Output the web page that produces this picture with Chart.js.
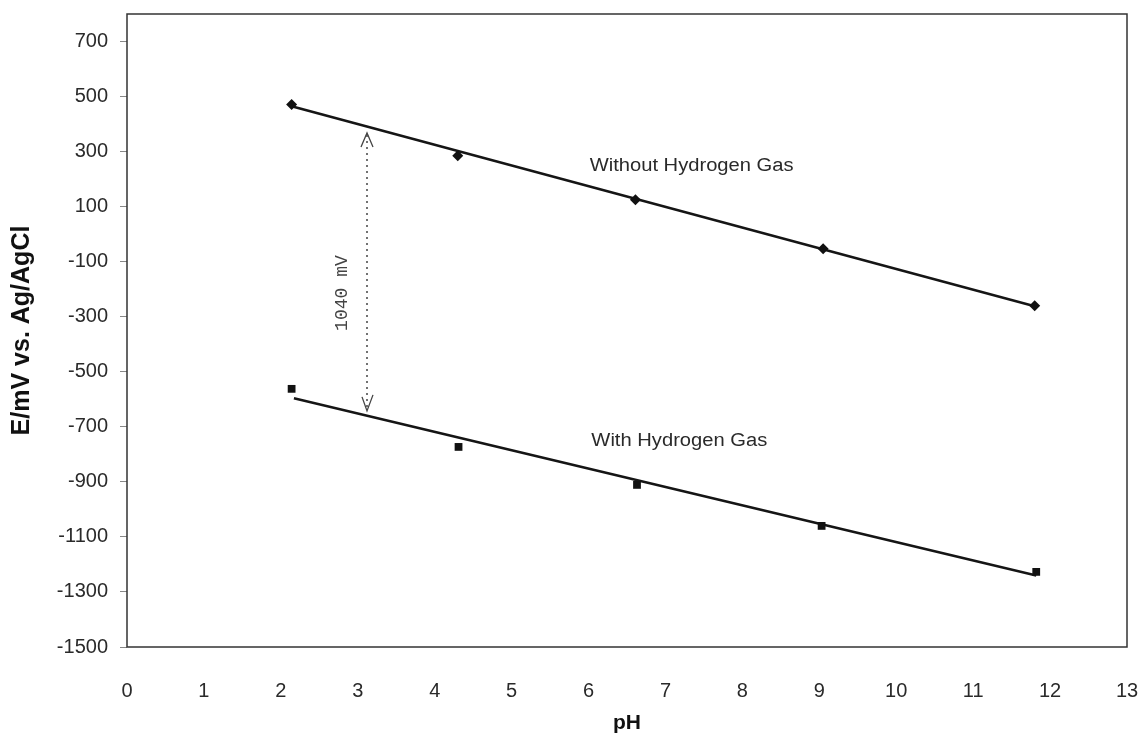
<!DOCTYPE html>
<html>
<head>
<meta charset="utf-8">
<script src="https://cdn.jsdelivr.net/npm/chart.js@4.4.1/dist/chart.umd.min.js"></script>
<style>
  html, body { margin: 0; padding: 0; background: #fff; }
  #wrap { width: 1143px; height: 733px; position: relative; }
</style>
</head>
<body>
<div id="wrap"><canvas id="chart"></canvas></div>
<script>
// ========== данные ==========
const phWithout = [2.14, 4.30, 6.61, 9.05, 11.80];
const eWithout = [471, 285, 125, -53, -260];
const phWith = [2.14, 4.31, 6.63, 9.03, 11.82];
const eWith = [-562, -773, -911, -1060, -1227];

// линии тренда (концы)
const trendWithoutX = [2.14, 11.80];
const trendWithoutY = [465, -262];
const trendWithX = [2.17, 11.82];
const trendWithY = [-596, -1240];

const xTicks = [0, 1, 2, 3, 4, 5, 6, 7, 8, 9, 10, 11, 12, 13];
const yTicks = [-1500, -1300, -1100, -900, -700, -500, -300, -100, 100, 300, 500, 700];

const seriesLabels = ["Without Hydrogen Gas", "With Hydrogen Gas"];
const seriesLabelX = [7.34, 7.18];
const seriesLabelY = [249, -753];

// стрелка 1040 mV
const gapLabel = "1040 mV";
const gapX = 3.12;
const gapTop = 368;
const gapBottom = -642;
const gapLabelX = 2.80;
const gapLabelY = -214;

const TEXT = "#2a2a2a";
const FONT = "'Liberation Sans', Arial, sans-serif";

function toPoints(xs, ys) {
  return xs.map((x, i) => ({ x: x, y: ys[i] }));
}

function fixAxis(axis) {
  axis.paddingLeft = 0;
  axis.paddingRight = 0;
  axis.paddingTop = 0;
  axis.paddingBottom = 0;
}

// рамка, подписи серий, стрелка
const decorPlugin = {
  id: "decor",
  afterDatasetsDraw(chart) {
    const { ctx, chartArea: a, scales } = chart;
    const xs = scales.x, ys = scales.y;
    ctx.save();

    ctx.strokeStyle = "#333";
    ctx.lineWidth = 1.5;
    ctx.strokeRect(a.left, a.top, a.right - a.left, a.bottom - a.top);

    ctx.fillStyle = TEXT;
    ctx.font = "18px " + FONT;
    ctx.textAlign = "center";
    ctx.textBaseline = "middle";
    seriesLabels.forEach((t, i) => {
      ctx.save();
      ctx.translate(xs.getPixelForValue(seriesLabelX[i]), ys.getPixelForValue(seriesLabelY[i]));
      ctx.scale(1.12, 1);
      ctx.fillText(t, 0, 0);
      ctx.restore();
    });

    // пунктирная стрелка
    const px = xs.getPixelForValue(gapX);
    const y1 = ys.getPixelForValue(gapTop);
    const y2 = ys.getPixelForValue(gapBottom);
    ctx.strokeStyle = "#444";
    ctx.lineWidth = 1.5;
    ctx.setLineDash([2, 4]);
    ctx.beginPath();
    ctx.moveTo(px, y1 + 2);
    ctx.lineTo(px, y2 - 2);
    ctx.stroke();
    ctx.setLineDash([]);
    ctx.lineWidth = 1.3;
    ctx.beginPath();
    ctx.moveTo(px - 6, y1 + 14);
    ctx.lineTo(px, y1);
    ctx.lineTo(px + 6, y1 + 14);
    ctx.moveTo(px - 5, y2 - 14);
    ctx.lineTo(px, y2);
    ctx.lineTo(px + 6, y2 - 16);
    ctx.stroke();

    ctx.translate(xs.getPixelForValue(gapLabelX), ys.getPixelForValue(gapLabelY));
    ctx.rotate(-Math.PI / 2);
    ctx.font = "18px 'Liberation Mono', 'DejaVu Sans Mono', monospace";
    ctx.fillStyle = "#444";
    ctx.fillText(gapLabel, 0, 0);
    ctx.restore();
  },
};

const ctx = document.getElementById("chart").getContext("2d");
new Chart(ctx, {
  type: "scatter",
  data: {
    datasets: [
      {
        label: seriesLabels[0],
        data: toPoints(phWithout, eWithout),
        pointStyle: "rectRot",
        pointRadius: 5.5,
        backgroundColor: "#111",
        borderColor: "#111",
        borderWidth: 0,
      },
      {
        label: seriesLabels[1],
        data: toPoints(phWith, eWith),
        pointStyle: "rect",
        pointRadius: 5.5,
        backgroundColor: "#111",
        borderColor: "#111",
        borderWidth: 0,
      },
      {
        label: "trend1",
        data: toPoints(trendWithoutX, trendWithoutY),
        showLine: true,
        pointRadius: 0,
        borderColor: "#151515",
        borderWidth: 2.5,
      },
      {
        label: "trend2",
        data: toPoints(trendWithX, trendWithY),
        showLine: true,
        pointRadius: 0,
        borderColor: "#151515",
        borderWidth: 2.5,
      },
    ],
  },
  options: {
    responsive: true,
    maintainAspectRatio: false,
    animation: false,
    layout: { padding: { top: 14, right: 16, left: 0, bottom: 0 } },
    plugins: { legend: { display: false }, tooltip: { enabled: false } },
    scales: {
      x: {
        type: "linear",
        min: 0,
        max: 13,
        afterBuildTicks: (axis) => { axis.ticks = xTicks.map((v) => ({ value: v })); },
        afterFit: (axis) => { axis.height = 86; fixAxis(axis); },
        grid: { display: false },
        border: { display: false },
        ticks: { color: TEXT, font: { family: FONT, size: 20 }, padding: 24, maxRotation: 0,
          callback: (v) => String(v) },
        title: {
          display: true,
          text: "pH",
          color: "#111",
          font: { family: FONT, size: 21, weight: "bold", lineHeight: 1 },
          padding: { top: 0, bottom: -1 },
        },
      },
      y: {
        type: "linear",
        min: -1500,
        max: 800,
        afterBuildTicks: (axis) => { axis.ticks = yTicks.map((v) => ({ value: v })); },
        afterFit: (axis) => { axis.width = 127; fixAxis(axis); },
        grid: { display: true, drawOnChartArea: false, drawTicks: true, tickLength: 7, color: "#888" },
        border: { display: false },
        ticks: { color: TEXT, font: { family: FONT, size: 20 }, padding: 12,
          callback: (v) => String(v) },
        title: {
          display: true,
          text: "E/mV vs. Ag/AgCl",
          color: "#111",
          font: { family: FONT, size: 25, weight: "bold", lineHeight: 1 },
          padding: { top: 10, bottom: 0 },
        },
      },
    },
  },
  plugins: [decorPlugin],
});
</script>
</body>
</html>
